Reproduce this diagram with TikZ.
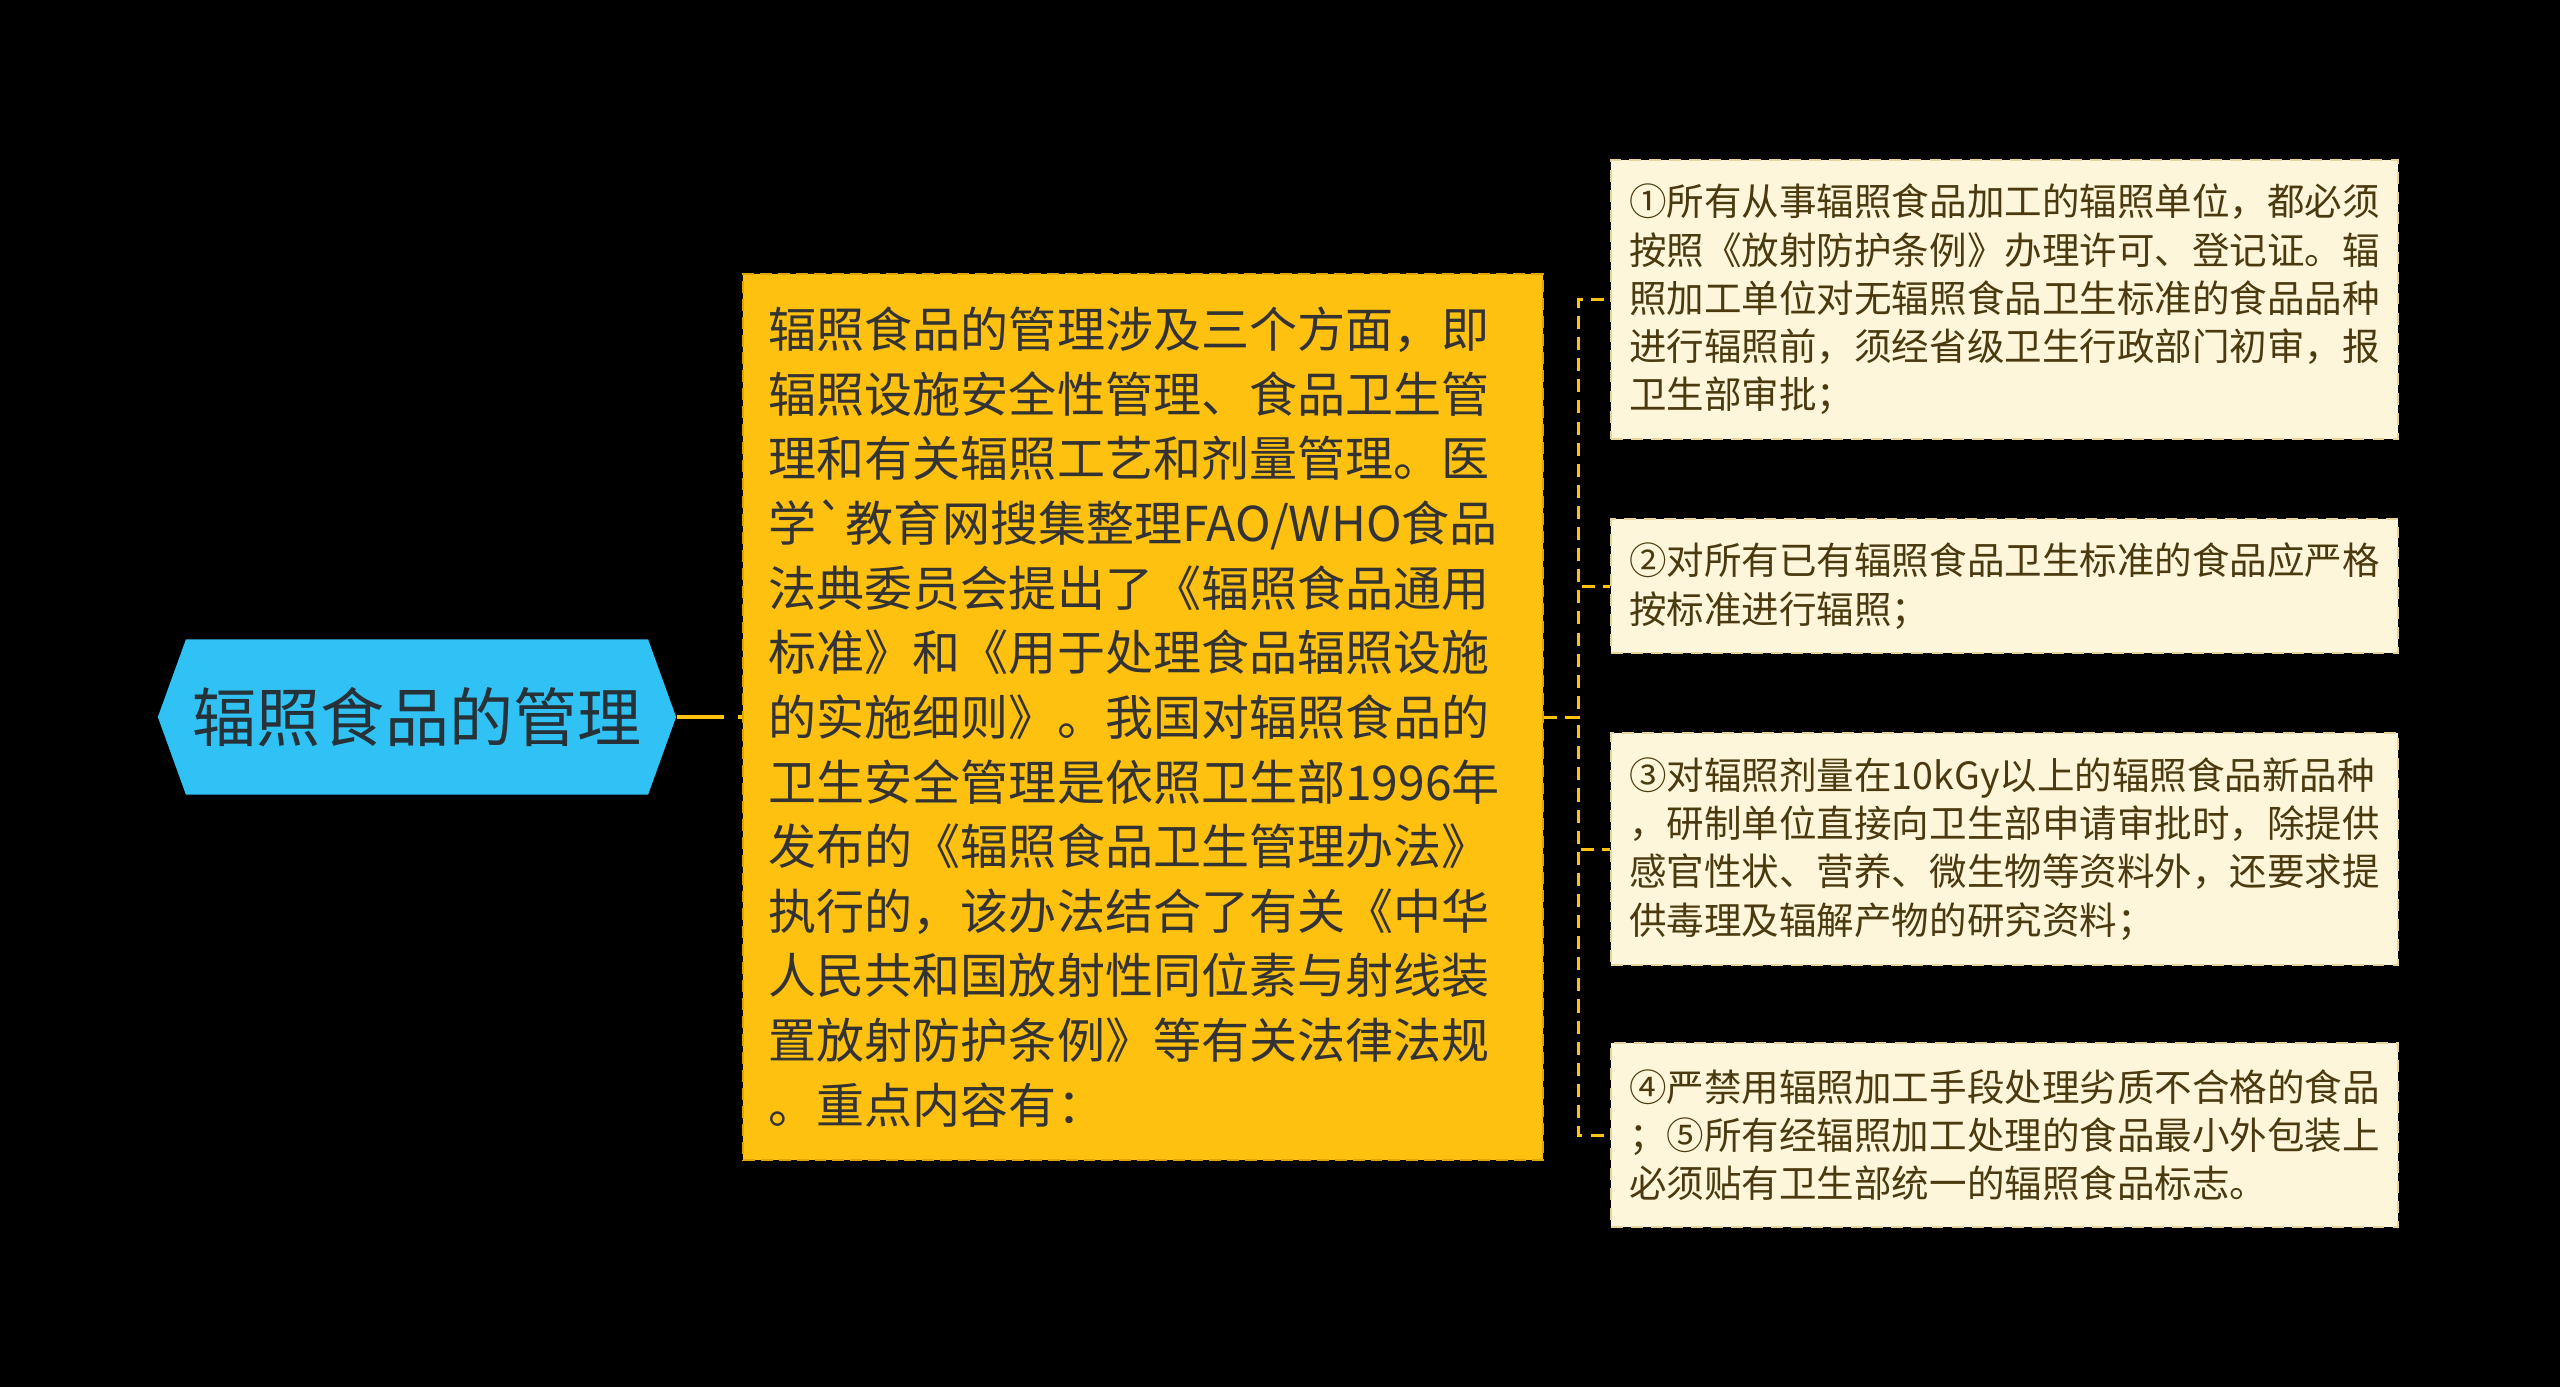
\documentclass[tikz,border=0pt]{standalone}
\usepackage{fontspec}
\newfontfamily\cjk{Noto Sans CJK SC}[Ligatures=TeXOff]
\usetikzlibrary{positioning}
\definecolor{bgblack}{HTML}{000000}
\definecolor{rootblue}{HTML}{30C2F4}
\definecolor{roottext}{HTML}{263238}
\definecolor{maingold}{HTML}{FEC10F}
\definecolor{mainedge}{HTML}{E0A600}
\definecolor{maintext}{HTML}{333333}
\definecolor{leafcream}{HTML}{FEF6DA}
\definecolor{leafedge}{HTML}{E6D49C}
\definecolor{leaftext}{HTML}{4B3A10}
\definecolor{linkgold}{HTML}{FFC20E}

\begin{document}
\begin{tikzpicture}[x=0.01cm, y=-0.01cm,
    rootnode/.style={minimum width=5.18cm, minimum height=1.55cm, inner sep=0pt,
      fill=bgblack, text=roottext, font=\cjk\fontsize{18.2}{22}\selectfont,
      path picture={\fill[rootblue] (path picture bounding box.west)
        -- ([xshift=0.28cm]path picture bounding box.north west)
        -- ([xshift=-0.28cm]path picture bounding box.north east)
        -- (path picture bounding box.east)
        -- ([xshift=-0.28cm]path picture bounding box.south east)
        -- ([xshift=0.28cm]path picture bounding box.south west) -- cycle;}},
    mainbox/.style={fill=maingold, draw=mainedge, line width=0.6pt,
      dash pattern=on 3.4pt off 1.7pt, minimum width=8cm, minimum height=8.85cm,
      text width=7.48cm, inner xsep=0.26cm, align=left, text=maintext,
      font=\cjk\fontsize{13.66}{18.38}\selectfont},
    leafbox/.style={fill=leafcream, draw=leafedge, line width=0.6pt,
      dash pattern=on 3.4pt off 2.3pt, text width=7.5cm, inner xsep=0.185cm,
      inner ysep=0pt, align=left, text=leaftext,
      font=\cjk\fontsize{10.67}{13.71}\selectfont},
    rootlink/.style={draw=linkgold, line width=1.1pt, dash pattern=on 13.4pt off 4pt},
    leaflink/.style={draw=linkgold, line width=0.85pt, dash pattern=on 3.7pt off 2.3pt}]

    % background and page size
    \fill[bgblack] (0,0) rectangle (2560,1387);

    % root topic
    \node[rootnode] (root) at (417,717) {辐照食品的管理};

    % main text box
    \node[mainbox] (main) at (1143,717) {辐照食品的管理涉及三个方面，即\\
      辐照设施安全性管理、食品卫生管\\
      理和有关辐照工艺和剂量管理。医\\
      学`教育网搜集整理FAO/WHO食品\\
      法典委员会提出了《辐照食品通用\\
      标准》和《用于处理食品辐照设施\\
      的实施细则》。我国对辐照食品的\\
      卫生安全管理是依照卫生部1996年\\
      发布的《辐照食品卫生管理办法》\\
      执行的，该办法结合了有关《中华\\
      人民共和国放射性同位素与射线装\\
      置放射防护条例》等有关法律法规\\
      。重点内容有：};

    % the four leaf boxes
    \node[leafbox, minimum height=2.79cm] (leaf1) at (2004.5,299.5) {①所有从事辐照食品加工的辐照单位，都必须\\
      按照《放射防护条例》办理许可、登记证。辐\\
      照加工单位对无辐照食品卫生标准的食品品种\\
      进行辐照前，须经省级卫生行政部门初审，报\\
      卫生部审批；};
    \node[leafbox, minimum height=1.34cm] (leaf2) at (2004.5,586) {②对所有已有辐照食品卫生标准的食品应严格\\
      按标准进行辐照；};
    \node[leafbox, minimum height=2.32cm] (leaf3) at (2004.5,849) {③对辐照剂量在10kGy以上的辐照食品新品种\\
      ，研制单位直接向卫生部申请审批时，除提供\\
      感官性状、营养、微生物等资料外，还要求提\\
      供毒理及辐解产物的研究资料；};
    \node[leafbox, minimum height=1.84cm] (leaf4) at (2004.5,1135) {④严禁用辐照加工手段处理劣质不合格的食品\\
      ；⑤所有经辐照加工处理的食品最小外包装上\\
      必须贴有卫生部统一的辐照食品标志。};

    % connectors
    \coordinate (fork) at ([xshift=0.34cm]main.east);
    \draw[rootlink] (root) -- (main);
    \foreach \n in {1,...,4}
      \draw[leaflink] (main.east) -- (fork) |- (leaf\n.west);

\end{tikzpicture}
\end{document}
